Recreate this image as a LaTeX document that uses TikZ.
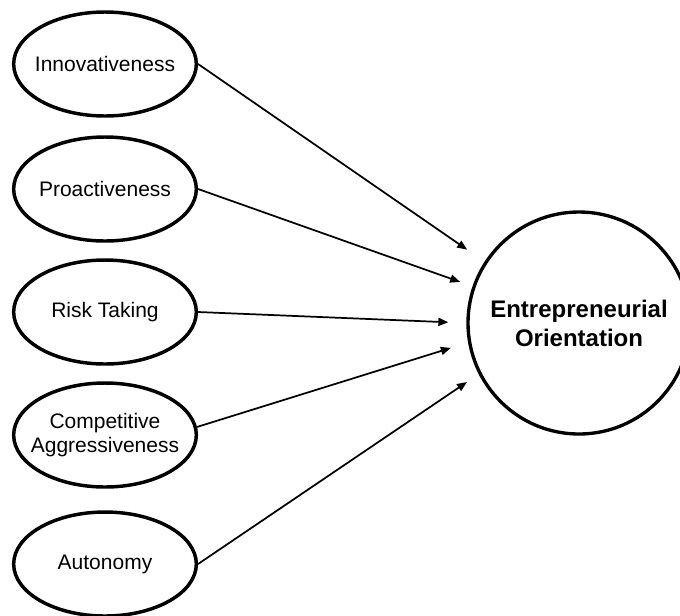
\documentclass[tikz,border=0pt]{standalone}
\usepackage{fontspec}
\setmainfont{Liberation Sans}
\usetikzlibrary{shapes.geometric,arrows.meta}
\tikzset{
    >={Triangle[length=7.5pt,width=6pt]},
    factor/.style={
        ellipse,
        draw=black, line width=2.6pt,
        minimum width=137pt,
        minimum height=78pt,
        inner xsep=-10pt, inner ysep=0pt,
        align=center,
        font=\fontsize{15.75}{18}\selectfont
    },
    construct/.style={
        circle,
        draw=black, line width=2.5pt,
        minimum size=166.5pt,
        inner sep=0pt,
        align=center,
        font=\fontsize{18}{21.75}\selectfont\bfseries
    },
    path/.style={->, line width=1.3pt}
}

\begin{document}
\begin{tikzpicture}[x=0.75pt, y=-0.75pt]
    \useasboundingbox (0,0) rectangle (680,615);
    % the five dimensions
    \node[factor] (inn)  at (105,64)  {Innovativeness};
    \node[factor] (pro)  at (105,189) {Proactiveness};
    \node[factor] (risk) at (105,312) {Risk Taking};
    \node[factor] (comp) at (105,435) {Competitive\\Aggressiveness};
    \node[factor] (aut)  at (105,564) {Autonomy};
    % the construct they load on
    \node[construct] (eo) at (579,323) {Entrepreneurial\\Orientation};
    % src anchor / border angle on eo / gap left before the circle
    \foreach \src/\to/\gap in {inn.east/147/15.8pt, pro.east/161/9.8pt,
                               risk.east/180/13.5pt, comp.5/190/13.5pt,
                               aut.east/207/10.5pt}
        \draw[path, shorten >=\gap] (\src) -- (eo.\to);
\end{tikzpicture}
\end{document}
